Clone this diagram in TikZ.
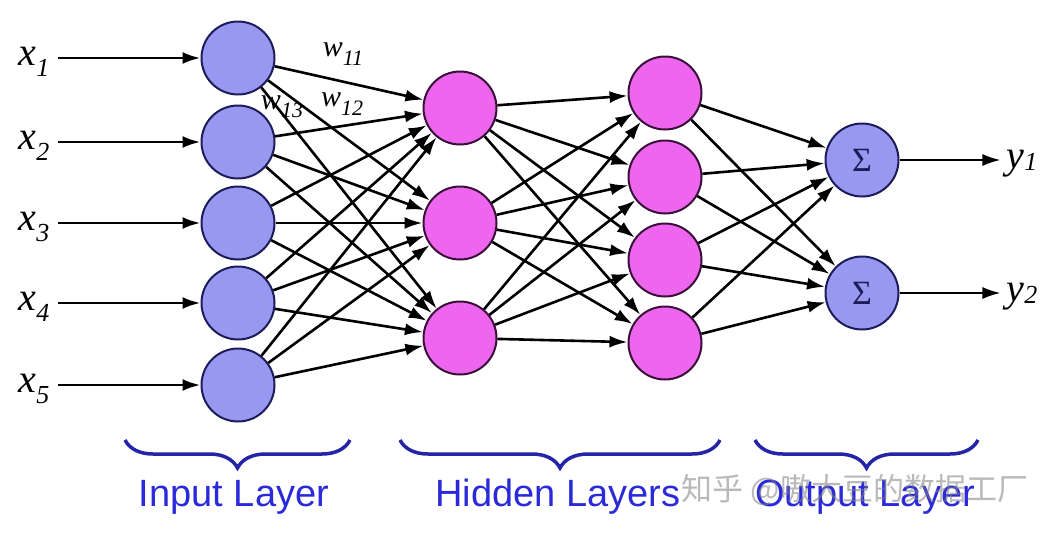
\documentclass[tikz,border=0pt]{standalone}
\usepackage{fontspec}
\setsansfont{Liberation Sans}
\newfontfamily\timesfont{Liberation Serif}
\newfontfamily\cjkfont{Noto Sans CJK SC}
\usetikzlibrary{positioning, arrows.meta, decorations.pathreplacing}
\definecolor{inblue}{HTML}{9898F0}
\definecolor{hidpink}{HTML}{EE66EE}
\definecolor{navyline}{HTML}{1C1C5A}
\definecolor{plumline}{HTML}{3A103A}
\definecolor{bracecol}{HTML}{2424A8}
\definecolor{labelcol}{HTML}{2A2ADA}

\tikzset{
  neuron/.style={circle, minimum size=73pt, inner sep=0pt, line width=2pt},
  inneuron/.style={neuron, fill=inblue, draw=navyline},
  hidneuron/.style={neuron, fill=hidpink, draw=plumline},
  conn/.style={line width=2.6pt, -{Latex[length=18pt, width=12pt]}},
  feed/.style={line width=2.8pt, -{Latex[length=18pt, width=12pt]}},
  varlabel/.style={font=\timesfont\itshape\fontsize{40}{44}\selectfont, inner sep=2pt},
  wlabel/.style={font=\timesfont\itshape\fontsize{30}{34}\selectfont, inner sep=0pt},
  sumlabel/.style={font=\timesfont\fontsize{34}{36}\selectfont, text=navyline},
  layerbrace/.style={decorate, decoration={brace, mirror, amplitude=28pt},
    line width=3.5pt, draw=bracecol},
  layerlabel/.style={font=\sffamily\fontsize{38}{44}\selectfont, text=labelcol},
}

\newcommand{\lowsub}[1]{\raisebox{-0.28em}{\fontsize{26}{28}\selectfont #1}}
\newcommand{\ysub}[1]{\raisebox{-0.05em}{\fontsize{26}{28}\selectfont #1}}

\begin{document}
\begin{tikzpicture}[x=1pt, y=-1pt]
\useasboundingbox (0,0) rectangle (1059,536);

% input layer
\foreach \i/\y in {1/58, 2/142, 3/223, 4/303, 5/385} {
  \node[inneuron] (in\i) at (238,\y) {};
  \node[varlabel] (x\i) at (34,\y+4) {x\lowsub{\i}};
  \draw[feed] (x\i.east |- in\i) ++(6,0) -- (in\i);
}

% hidden layers
\foreach \j/\y in {1/108, 2/223, 3/338}
  \node[hidneuron] (ha\j) at (460,\y) {};
\foreach \k/\y in {1/93, 2/177, 3/260, 4/343}
  \node[hidneuron] (hb\k) at (665,\y) {};

% output layer
\foreach \m/\y in {1/160, 2/293} {
  \node[inneuron] (out\m) at (862,\y) {};
  \node[sumlabel] (sum\m) at (out\m) {Σ};
  \node[varlabel] (y\m) at (1022,\y+4) {y\ysub{\m}};
  \draw[conn, line width=1.8pt] (out\m) -- ([xshift=-4pt]y\m.west |- out\m);
}

% weights
\node[wlabel] (w11) at (343,54) {w\lowsub{\fontsize{22}{24}\selectfont 11}};
\node[wlabel] (w13) at (282,107) {w\lowsub{\fontsize{22}{24}\selectfont 13}};
\node[wlabel] (w12) at (342,104) {w\lowsub{\fontsize{22}{24}\selectfont 12}};

% connections
\foreach \i in {1,...,5}
  \foreach \j in {1,2,3}
    \draw[conn] (in\i) -- (ha\j);
\foreach \j in {1,2,3}
  \foreach \k in {1,...,4}
    \draw[conn] (ha\j) -- (hb\k);
\foreach \k in {1,...,4}
  \foreach \m in {1,2}
    \draw[conn] (hb\k) -- (out\m);

% braces and layer names
\draw[layerbrace] (125,440) -- (350,440);
\draw[layerbrace] (400,440) -- (720,440);
\draw[layerbrace] (755,440) -- (978,440);
\node[layerlabel] (inlab) at (234,497) {Input Layer};
\node[layerlabel] (hidlab) at (558,497) {Hidden Layers};
\node[layerlabel] (outlab) at (865,497) {Output Layer};

% watermark
\node[font=\cjkfont\fontsize{31}{36}\selectfont, text=gray, opacity=0.55] (mark) at (855,490) {知乎 @嗷大豆的数据工厂};
\end{tikzpicture}
\end{document}
